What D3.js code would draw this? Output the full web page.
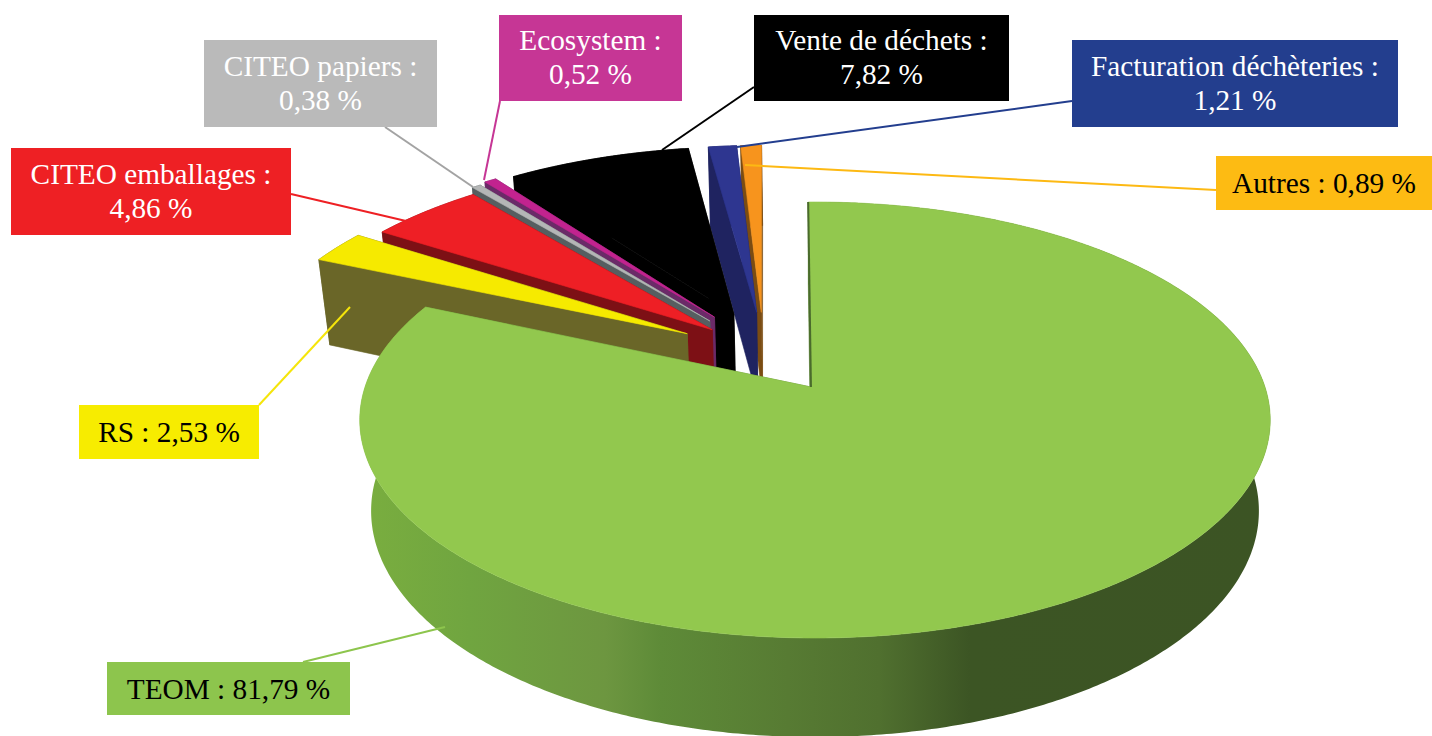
<!DOCTYPE html>
<html lang="fr">
<head>
<meta charset="utf-8">
<script src="https://cdn.jsdelivr.net/npm/d3@7"></script>
<style>
html,body{margin:0;padding:0;background:#fff;overflow:hidden}
svg{display:block}
text{font-family:"Liberation Serif","Times New Roman",serif;font-size:29.3px}
</style>
</head>
<body>
<svg id="chart" width="1432" height="736"></svg>
<script>
// ---- data ----
const categories = ["TEOM","RS","CITEO emballages","CITEO papiers","Ecosystem","Vente de déchets","Facturation déchèteries","Autres"];
const values = [81.79,2.53,4.86,0.38,0.52,7.82,1.21,0.89];

// ---- styles & layout ----
const topColors  = ["#92c84e","#f6ea00","#ee1f25","#b4b6b6","#c2238f","#000000","#2e3690","#f7941d"];
const wallColors = ["#5c8436","#6a6628","#7d1015","#565e60","#6b2a68","#000000","#1f2360","#7b4c12"];
const boxColors  = ["#8dc54d","#f7ec00","#ee2024","#bababa","#c63695","#000000","#233e8e","#fdbb13"];
const textColors = ["#000","#000","#fff","#fff","#fff","#fff","#fff","#000"];
const lineColors = ["#8dc54d","#f5e50a","#ee2024","#a3a3a3","#c63695","#000000","#233e8e","#fdb913"];
// explosion of each slice, in disc units
const explodeX = [0,-0.295,-0.238,-0.245,-0.235,-0.19,-0.137,-0.126];
const explodeY = [0,-0.26,-0.28,-0.325,-0.345,-0.36,-0.37,-0.37];
const apexShiftMain = -0.009;
// label boxes [x0,y0,x1,y1]
const boxes = [[107,662,350,715],[79,405,259,459],[11,148,291,235],[204,40,437,127],
               [499,15,682,101],[754,15,1009,101],[1072,40,1398,127],[1216,156,1432,210]];
// leader lines [x0,y0,x1,y1]
const leaders = [[303,662,445,627],[259,405,350,307],[291,194,406,221],[385,127,473,187],
                 [500,101,484,180],[754,87,662,150],[1072,101,737,147],[1216,190,745,165]];
const twoLines = [false,false,true,true,true,true,true,false];

// perspective projection of the pie
const cx=815, cy=387, B=450, A=213, C=92.8, persp=0.1514, zShrink=0.025;
function proj(x,y,z){
  const w = 1 + zShrink*z - persp*y;
  return [cx + B*x/w, cy + (A*y + C*z)/w];
}
const rot = -1*Math.PI/180;
const pieGen = d3.pie().sort(null).value(d=>d).startAngle(rot).endAngle(rot+2*Math.PI);
const arcs = pieGen(values);
const line = d3.line();
const svg = d3.select("#chart");

const grad = svg.append("defs").append("linearGradient").attr("id","side")
  .attr("gradientUnits","userSpaceOnUse").attr("x1",360).attr("x2",1270).attr("y1",0).attr("y2",0);
[[0,"#7aae3f"],[0.12,"#70a540"],[0.27,"#6d9640"],[0.33,"#5e8b38"],[0.47,"#577b33"],[0.57,"#50702f"],[0.67,"#3c5524"],[1,"#3c5424"]]
  .forEach(s=>grad.append("stop").attr("offset",s[0]).attr("stop-color",s[1]));

function arcPts(a0,a1,ox,oy,z){
  const n = Math.max(3,Math.ceil((a1-a0)/0.01));
  return d3.range(n+1).map(i=>{
    const t=a0+(a1-a0)*i/n;
    return proj(Math.sin(t)+ox,-Math.cos(t)+oy,z);
  });
}
function face(g,pts,fill){
  g.append("path").attr("d",line(pts)+"Z").attr("fill",fill)
   .attr("stroke",fill.startsWith("url")?"none":fill).attr("stroke-width",0.6).attr("stroke-linejoin","round");
}
// painter's order: back slices first, the main slice last
const order=[7,6,5,4,3,2,1,0];
const g = svg.append("g");
order.forEach(i=>{
  const a=arcs[i], ox=explodeX[i], oy=explodeY[i];
  const wall = i===0 ? "url(#side)" : wallColors[i];
  const top0=arcPts(a.startAngle,a.endAngle,ox,oy,0), low0=arcPts(a.startAngle,a.endAngle,ox,oy,1);
  const sx = i===0 ? apexShiftMain : 0;
  const apexT=proj(ox+sx,oy,0), apexL=proj(ox+sx,oy,1);
  face(g,top0.concat(low0.slice().reverse()),wall);
  face(g,[apexT,top0[top0.length-1],low0[low0.length-1],apexL],wallColors[i]);
  face(g,[apexT,top0[0],low0[0],apexL],wallColors[i]);
  face(g,[apexT].concat(top0),topColors[i]);
  if(i===0){
    g.append("path").attr("d",line([top0[0],apexT])).attr("stroke","#4a6b2c").attr("stroke-width",2).attr("fill","none");
  }
});

// leader lines
leaders.forEach((l,i)=>{
  svg.append("line").attr("x1",l[0]).attr("y1",l[1]).attr("x2",l[2]).attr("y2",l[3])
    .attr("stroke",lineColors[i]).attr("stroke-width",2);
});
// labels
const fmt = v=>v.toFixed(2).replace(".",",")+" %";
categories.forEach((c,i)=>{
  const b=boxes[i], mx=(b[0]+b[2])/2, my=(b[1]+b[3])/2;
  svg.append("rect").attr("x",b[0]).attr("y",b[1]).attr("width",b[2]-b[0]).attr("height",b[3]-b[1]).attr("fill",boxColors[i]);
  const t=svg.append("text").attr("text-anchor","middle").attr("fill",textColors[i]);
  if(twoLines[i]){
    t.append("tspan").attr("x",mx).attr("y",my-8).text(c+" :");
    t.append("tspan").attr("x",mx).attr("y",my+26).text(fmt(values[i]));
  } else {
    t.append("tspan").attr("x",mx).attr("y",my+10).text(c+" : "+fmt(values[i]));
  }
});
</script>
</body>
</html>
